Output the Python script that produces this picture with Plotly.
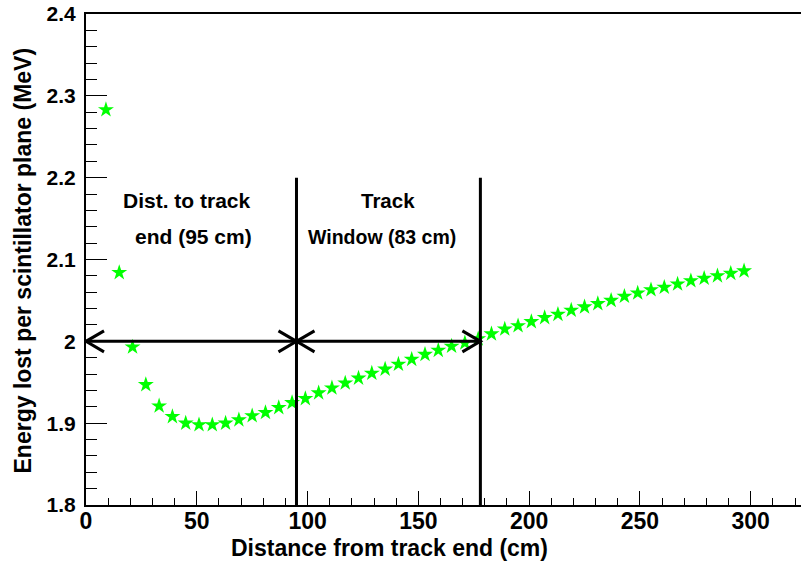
import plotly.graph_objects as go

# Distance from the track end (cm) and mean energy deposit per plane (MeV)
distance_cm = [9, 15, 21, 27, 33, 39, 45, 51, 57, 63, 69, 75, 81, 87, 93, 99,
               105, 111, 117, 123, 129, 135, 141, 147, 153, 159, 165, 171, 177,
               183, 189, 195, 201, 207, 213, 219, 225, 231, 237, 243, 249, 255,
               261, 267, 273, 279, 285, 291, 297]
energy_mev = [2.283, 2.084, 1.993, 1.947, 1.921, 1.908, 1.900, 1.898, 1.898,
              1.900, 1.904, 1.909, 1.913, 1.919, 1.925, 1.930, 1.937, 1.943,
              1.949, 1.955, 1.961, 1.966, 1.972, 1.978, 1.984, 1.989, 1.994,
              1.998, 2.003, 2.009, 2.015, 2.019, 2.024, 2.029, 2.033, 2.038,
              2.042, 2.046, 2.050, 2.055, 2.059, 2.063, 2.066, 2.070, 2.074,
              2.077, 2.080, 2.083, 2.086]

# y-axis tick positions and labels
y_tick_vals = [1.8, 1.9, 2.0, 2.1, 2.2, 2.3, 2.4]
y_tick_text = ["1.8", "1.9", "2", "2.1", "2.2", "2.3", "2.4"]

# Region boundaries (cm) and the reference energy level (MeV)
window_start = 95
window_end = 178
arrow_level = 2.0
line_top = 2.2

x_range = [0, 322.7]
y_range = [1.8, 2.4]

FONT = "Liberation Sans"
BLACK = "#000000"

fig = go.Figure()
fig.add_trace(go.Scatter(
    x=distance_cm, y=energy_mev, mode="markers",
    marker=dict(symbol="star", size=12, color="#00ff00", line=dict(width=0)),
    showlegend=False,
))

shapes = []
# vertical boundaries of the two regions
for xv in (window_start, window_end):
    shapes.append(dict(type="line", xref="x", yref="y", x0=xv, x1=xv,
                       y0=y_range[0], y1=line_top,
                       line=dict(color=BLACK, width=3)))
# horizontal double-arrow line
shapes.append(dict(type="line", xref="x", yref="y", x0=0, x1=window_end,
                   y0=arrow_level, y1=arrow_level,
                   line=dict(color=BLACK, width=3)))

# open arrowheads, drawn in pixel offsets around their tips
left_head = "M 18,10.5 L 0,0 L 18,-10.5"
right_head = "M -18,10.5 L 0,0 L -18,-10.5"
for xa, path in ((0, left_head), (window_start, right_head),
                 (window_start, left_head), (window_end, right_head)):
    shapes.append(dict(type="path", xref="x", yref="y",
                       xsizemode="pixel", ysizemode="pixel",
                       xanchor=xa, yanchor=arrow_level, path=path,
                       line=dict(color=BLACK, width=3)))

annotations = []
labels = [
    ("Dist. to track", 45.6, 2.1726, 21),
    ("end (95 cm)", 48.3, 2.1278, 21),
    ("Track", 136.1, 2.1726, 20.5),
    ("Window (83 cm)", 133.4, 2.1278, 19.5),
]
for txt, xa, ya, fs in labels:
    annotations.append(dict(text=txt, x=xa, y=ya, xref="x", yref="y",
                            showarrow=False, xanchor="center", yanchor="middle",
                            font=dict(family=FONT, size=fs, color=BLACK,
                                      weight="bold")))

# axis titles
annotations.append(dict(text="Distance from track end (cm)", x=0.425, y=0,
                        xref="paper", yref="paper", yshift=-43,
                        showarrow=False, xanchor="center", yanchor="middle",
                        font=dict(family=FONT, size=23, color=BLACK,
                                  weight="bold")))
annotations.append(dict(text="Energy lost per scintillator plane (MeV)",
                        x=0, y=0.498, xref="paper", yref="paper", xshift=-63,
                        textangle=-90, showarrow=False,
                        xanchor="center", yanchor="middle",
                        font=dict(family=FONT, size=23, color=BLACK,
                                  weight="bold")))

fig.update_layout(
    width=801, height=563,
    margin=dict(l=86, r=0, t=14, b=58),
    paper_bgcolor="white", plot_bgcolor="white",
    shapes=shapes, annotations=annotations,
    showlegend=False,
)
fig.update_xaxes(
    range=x_range, dtick=50, tick0=0,
    showgrid=False, zeroline=False,
    showline=True, linecolor=BLACK, linewidth=2, mirror=True,
    ticks="inside", ticklen=14, tickwidth=1.3, tickcolor=BLACK,
    minor=dict(ticks="inside", ticklen=7, dtick=10, tickwidth=1.3,
               tickcolor=BLACK, showgrid=False),
    tickfont=dict(family=FONT, size=23, color=BLACK, weight="bold"),
    ticklabelstandoff=-6,
)
fig.update_yaxes(
    range=y_range, tickmode="array",
    tickvals=y_tick_vals, ticktext=y_tick_text,
    showgrid=False, zeroline=False,
    showline=True, linecolor=BLACK, linewidth=2,
    ticks="inside", ticklen=21, tickwidth=1.3, tickcolor=BLACK,
    minor=dict(ticks="inside", ticklen=11, dtick=0.02, tickwidth=1.3,
               tickcolor=BLACK, showgrid=False),
    tickfont=dict(family=FONT, size=21, color=BLACK, weight="bold"),
    ticklabelstandoff=4,
)

fig.write_html("out.html")
